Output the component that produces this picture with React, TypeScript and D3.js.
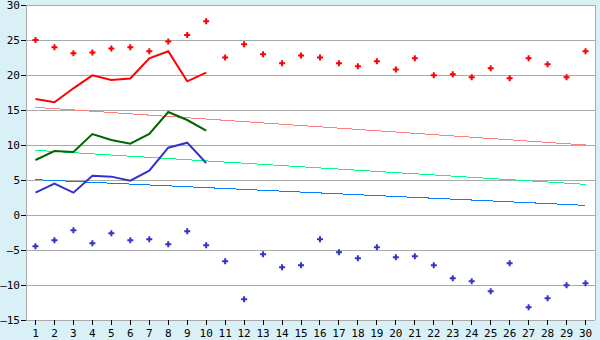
import React from "react";
import * as d3 from "d3";

const categories = ["1","2","3","4","5","6","7","8","9","10","11","12","13","14","15","16","17","18","19","20","21","22","23","24","25","26","27","28","29","30"];
const highPoints = [25.0,23.95,23.1,23.2,23.8,23.95,23.4,24.8,25.7,27.67,22.5,24.38,22.95,21.67,22.8,22.5,21.67,21.24,21.95,20.8,22.38,19.95,20.1,19.67,20.95,19.52,22.38,21.52,19.67,23.38];
const lowPoints = [-4.48,-3.62,-2.19,-4.05,-2.62,-3.62,-3.48,-4.19,-2.33,-4.33,-6.62,-12.05,-5.62,-7.48,-7.19,-3.48,-5.33,-6.19,-4.62,-6.05,-5.9,-7.19,-9.05,-9.48,-10.9,-6.9,-13.19,-11.9,-10.05,-9.76];
const redLine = [16.57,16.1,18.1,19.95,19.3,19.5,22.38,23.38,19.1,20.33];
const greenLine = [7.86,9.14,9.0,11.57,10.71,10.19,11.57,14.71,13.57,12.05];
const blueLine = [3.19,4.48,3.19,5.62,5.48,4.9,6.33,9.62,10.33,7.43];
const trendRed = [15.38,10.0];
const trendGreen = [9.24,4.38];
const trendBlue = [5.05,1.38];
const yTicks = [30,25,20,15,10,5,0,-5,-10,-15];

const W = 600, H = 340;
const L = 26, R = 595, T = 5, B = 320;

export default function App() {
  const x = d3.scaleBand<string>().domain(categories).range([L, R]);
  const cx = (i: number) => (x(categories[i]) as number) + x.bandwidth() / 2;
  const y = d3.scaleLinear().domain([-15, 30]).range([B, T]);
  const line = d3.line<number>().x((_, i) => cx(i)).y((d) => y(d));
  const trend = (v: number[]) => `M${cx(0)},${y(v[0])}L${cx(categories.length - 1)},${y(v[1])}`;
  const cross = d3.symbol().type(d3.symbolCross).size(20)();
  const font = "DejaVu Sans Mono, monospace";
  return (
    <svg width={W} height={H} style={{ position: "absolute", left: 0, top: 0 }}>
      <rect x={0} y={0} width={W} height={H} fill="#d9f0f7" />
      <rect x={L} y={T} width={R - L} height={B - T} fill="#ffffff" />
      {yTicks.map((t) => (
        <g key={t}>
          <line x1={L} x2={R} y1={y(t)} y2={y(t)} stroke="#aaaaaa" shapeRendering="crispEdges" />
          <line x1={L - 5} x2={L} y1={y(t)} y2={y(t)} stroke="#000000" shapeRendering="crispEdges" />
          <text x={20} y={y(t) + 4} textAnchor="end" fontFamily={font} fontSize={11} fill="#000">
            {t < 0 ? "\u2013" + Math.abs(t) : t}
          </text>
        </g>
      ))}
      <line x1={L} x2={L} y1={T} y2={B} stroke="#aaaaaa" shapeRendering="crispEdges" />
      <line x1={R} x2={R} y1={T} y2={B} stroke="#aaaaaa" shapeRendering="crispEdges" />
      {categories.map((c, i) => (
        <g key={c}>
          <line x1={cx(i)} x2={cx(i)} y1={B} y2={B + 5} stroke="#000" shapeRendering="crispEdges" />
          <text x={cx(i)} y={B + 17} textAnchor="middle" fontFamily={font} fontSize={11} fill="#000">{c}</text>
        </g>
      ))}
      <path d={trend(trendRed)} stroke="#ff8080" fill="none" shapeRendering="crispEdges" />
      <path d={trend(trendGreen)} stroke="#00ff80" fill="none" shapeRendering="crispEdges" />
      <path d={trend(trendBlue)} stroke="#0080ff" fill="none" shapeRendering="crispEdges" />
      <path d={line(redLine) as string} stroke="#ff0000" strokeWidth={2} fill="none" />
      <path d={line(greenLine) as string} stroke="#006600" strokeWidth={2} fill="none" />
      <path d={line(blueLine) as string} stroke="#3333cc" strokeWidth={2} fill="none" />
      {highPoints.map((v, i) => (
        <path key={"h" + i} d={cross as string} transform={`translate(${cx(i)},${y(v)})`} fill="#ff0000" />
      ))}
      {lowPoints.map((v, i) => (
        <path key={"l" + i} d={cross as string} transform={`translate(${cx(i)},${y(v)})`} fill="#3333cc" />
      ))}
    </svg>
  );
}
